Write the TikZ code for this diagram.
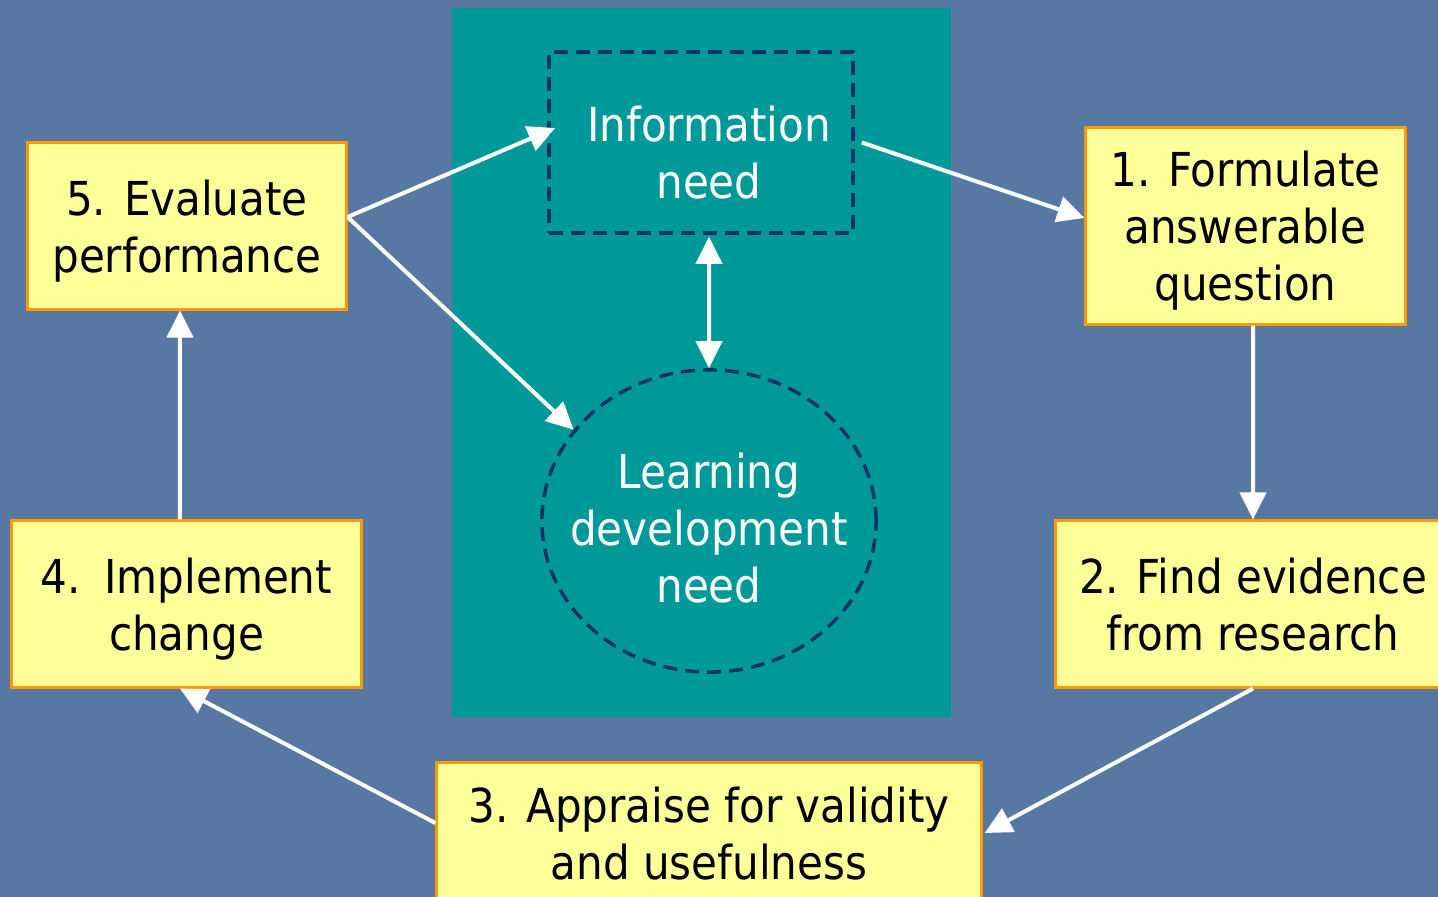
\documentclass[tikz,border=0pt]{standalone}
\usepackage{fontspec}
\setmainfont{DejaVu Sans Condensed}
\usetikzlibrary{shapes.geometric,arrows.meta}

\definecolor{slideblue}{HTML}{5878A4}
\definecolor{panelteal}{HTML}{009999}
\definecolor{boxyellow}{HTML}{FFFF99}
\definecolor{boxorange}{HTML}{FF9900}
\definecolor{neednavy}{HTML}{003366}

\tikzset{
	stepbox/.style={draw=boxorange, line width=0.03cm, fill=boxyellow, align=center, inner sep=0pt, text depth=0pt,
		font=\fontsize{13.3}{16.2}\selectfont},
	needshape/.style={draw=neednavy, line width=0.035cm, dash pattern=on 0.14cm off 0.08cm, inner sep=0pt},
	needtext/.style={text=white, align=center, text depth=0pt, font=\fontsize{13.3}{16.2}\selectfont},
	flow/.style={draw=white, line width=0.04cm, -{Triangle[length=0.27cm,width=0.26cm]}},
}

\begin{document}
\begin{tikzpicture}[x=0.01cm, y=-0.01cm]
	\useasboundingbox (0,0) rectangle (1438,897);
	\clip (0,0) rectangle (1438,897);
	\fill[slideblue] (0,0) rectangle (1438,897);
	\fill[panelteal] (452,8) rectangle (951,717);

	% centre of the panel
	\node[needshape, minimum width=3.04cm, minimum height=1.81cm] (info) at (701,142.5) {};
	\node[needtext] (infotext) at (709,152) {Information\\need};
	\node[needshape, ellipse, minimum width=3.34cm, minimum height=3.02cm] (learn) at (709,521) {};
	\node[needtext] (learntext) at (709,528) {Learning\\development\\need};

	% the five steps
	\node[stepbox, minimum width=3.19cm, minimum height=1.96cm] (formulate) at (1245.5,226) {1. Formulate\\answerable\\question};
	\node[stepbox, minimum width=3.94cm, minimum height=1.66cm] (find) at (1253,604) {2. Find evidence\\from research};
	\node[stepbox, minimum width=5.44cm, minimum height=1.40cm] (appraise) at (709,833) {3. Appraise for validity\\and usefulness};
	\node[stepbox, minimum width=3.49cm, minimum height=1.66cm] (implement) at (186.5,604) {4.\enspace Implement\\change};
	\node[stepbox, minimum width=3.18cm, minimum height=1.66cm] (evaluate) at (187,226) {5. Evaluate\\performance};

	% arrows
	\draw[flow] ([yshift=0.09cm]evaluate.east) -- ([xshift=0.08cm,yshift=0.145cm]info.west);
	\draw[flow] ([yshift=0.09cm]evaluate.east) -- (learn.146);
	\draw[flow] ([xshift=0.07cm]info.east) -- ([yshift=0.08cm]formulate.west);
	\draw[flow, {Triangle[length=0.27cm,width=0.26cm]}-{Triangle[length=0.27cm,width=0.26cm]}] ([xshift=0.08cm,yshift=-0.02cm]info.south) -- (learn.north);
	\draw[flow] ([xshift=0.075cm]formulate.south) -- (find.north);
	\draw[flow] (find.south) -- ([xshift=0.02cm]appraise.east);
	\draw[flow] ([yshift=0.1cm]appraise.west) -- ([xshift=-0.065cm]implement.south);
	\draw[flow] ([xshift=-0.065cm]implement.north) -- ([xshift=-0.07cm]evaluate.south);
\end{tikzpicture}
\end{document}
